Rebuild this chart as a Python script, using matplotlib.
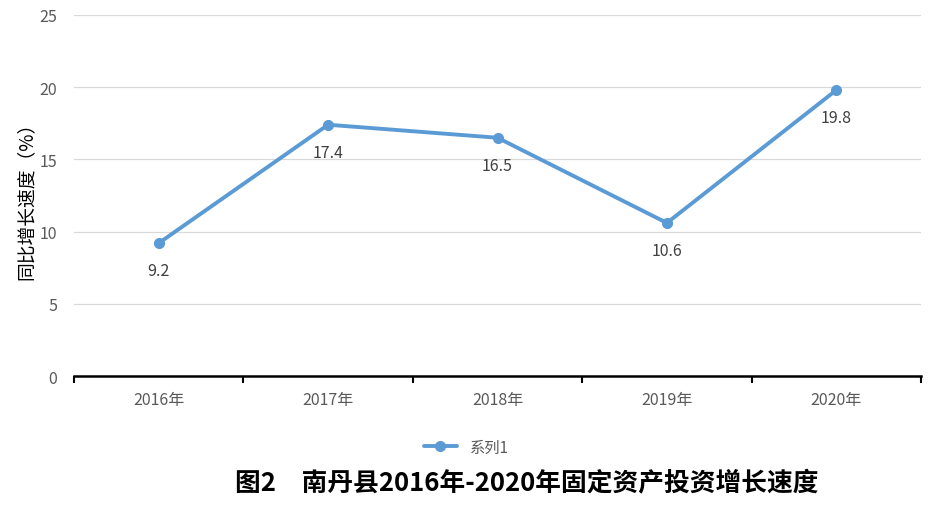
import matplotlib.pyplot as plt
import numpy as np

plt.rcParams['font.family'] = ['Noto Sans CJK SC', 'DejaVu Sans']

years = ["2016年", "2017年", "2018年", "2019年", "2020年"]
growth = [9.2, 17.4, 16.5, 10.6, 19.8]
y_ticks = [0, 5, 10, 15, 20, 25]

LINE_COLOR = "#5b9bd5"
TEXT_GRAY = "#595959"


def main():
    fig = plt.figure(figsize=(9.43, 5.10), dpi=100)
    ax = fig.add_axes([74 / 943, 1 - 377 / 510, (921 - 74) / 943, (377 - 16) / 510])

    x = np.arange(len(years))
    ax.plot(x, growth, color=LINE_COLOR, linewidth=2.8, marker="o",
            markersize=7, label="系列1", solid_capstyle="round")

    for xi, v in zip(x, growth):
        ax.annotate(f"{v}", (xi, v), xytext=(0, -20), textcoords="offset points",
                    ha="center", va="center", fontsize=11.5, color="#404040")

    ax.set_xlim(-0.5, len(years) - 0.5)
    ax.set_ylim(0, 25)
    ax.set_yticks(y_ticks)
    ax.grid(axis="y", color="#d9d9d9", linewidth=0.9)
    ax.set_axisbelow(True)

    # category ticks sit on the boundaries between years
    ax.set_xticks(np.arange(-0.5, len(years), 1.0))
    ax.set_xticklabels([])
    ax.set_xticks(x, minor=True)
    ax.set_xticklabels(years, minor=True)
    ax.tick_params(axis="x", which="major", length=5, width=1.5, color="black", direction="out")
    ax.tick_params(axis="x", which="minor", length=0, pad=11, labelsize=11.5, labelcolor=TEXT_GRAY)
    ax.tick_params(axis="y", length=0, pad=12, labelsize=11.5, labelcolor=TEXT_GRAY)

    for side in ["top", "right", "left"]:
        ax.spines[side].set_visible(False)
    ax.spines["bottom"].set_linewidth(1.8)
    ax.spines["bottom"].set_color("black")

    ax.set_ylabel("同比增长速度（%）", fontsize=13.5, color="black")
    ax.yaxis.set_label_coords(-0.044, 0.5)

    fig.legend(loc="center", bbox_to_anchor=(466 / 943, 1 - 448 / 510), frameon=False,
               fontsize=11, labelcolor=TEXT_GRAY, handlelength=2.2)

    fig.text(527 / 943, 1 - 484 / 510, "图2　南丹县2016年-2020年固定资产投资增长速度",
             ha="center", va="center", fontsize=18.5, fontweight="bold", color="black")

    fig.savefig("out.png", dpi=100)
    plt.close(fig)


if __name__ == "__main__":
    main()
